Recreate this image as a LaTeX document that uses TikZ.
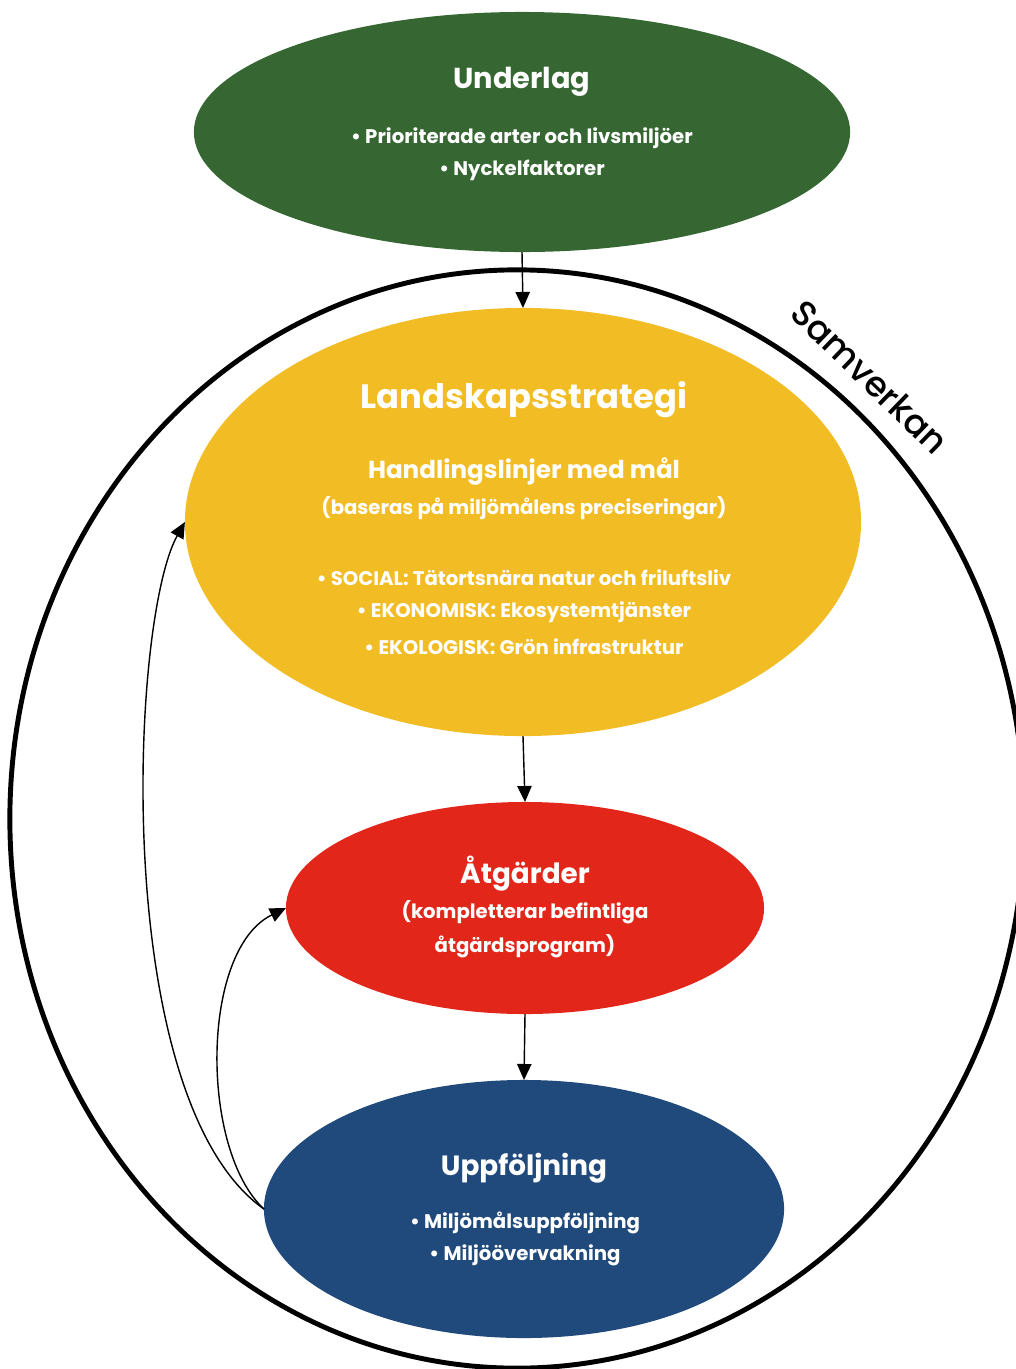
\documentclass[tikz,border=0pt]{standalone}
\usepackage{fontspec}
\setmainfont{Poppins}
\newfontfamily\mellan{Poppins Medium}
\usetikzlibrary{positioning,shapes.geometric,arrows.meta}
\definecolor{skog}{RGB}{54,103,51}
\definecolor{sol}{RGB}{242,188,36}
\definecolor{tegel}{RGB}{226,38,26}
\definecolor{hav}{RGB}{33,74,124}
\tikzset{
    Cirkel/.style={ellipse, inner sep=0pt, outer sep=0pt},
    Titel/.style={text=white, inner sep=0pt, font=\bfseries\fontsize{19.8}{23}\selectfont},
    Under/.style={text=white, inner sep=0pt, font=\bfseries\fontsize{17.5}{21}\selectfont},
    Punkt/.style={text=white, inner sep=0pt, font=\bfseries\fontsize{14}{17}\selectfont},
    Pil/.style={-{Triangle[length=4mm,width=3.6mm]}, line width=1pt}
    }
\begin{document}
\begin{tikzpicture}[x=0.025cm, y=-0.025cm]
\clip (0,0) rectangle (1016,1369);

% yttre ring
\node[Cirkel, draw, line width=3.5pt, minimum width=25.35cm, minimum height=27.45cm] (Ring) at (517,819) {};
\node[rotate=-44, font=\mellan\fontsize{25}{30}\selectfont] (Samverkan) at (870,377) {Samverkan};

\node[Cirkel, fill=skog, minimum width=16.4cm, minimum height=6cm] (Underlag) at (522,132) {};
\node[Cirkel, fill=sol, minimum width=16.9cm, minimum height=10.7cm] (Strategi) at (523,522) {};
\node[Cirkel, fill=tegel, minimum width=11.95cm, minimum height=5.3cm] (Atgarder) at (525,908) {};
\node[Cirkel, fill=hav, minimum width=13cm, minimum height=6.45cm] (Uppfoljning) at (524,1209) {};

\node[Titel, font=\bfseries\fontsize{20.5}{24}\selectfont] (UnderlagT) at (522,82) {Underlag};
\node[Punkt] (UnderlagA) at (522,138) {• Prioriterade arter och livsmiljöer};
\node[Punkt] (UnderlagB) at (522,170) {• Nyckelfaktorer};

\node[Titel, font=\bfseries\fontsize{24}{28}\selectfont] (StrategiT) at (524,400) {Landskapsstrategi};
\node[Under] (StrategiU) at (524,472) {Handlingslinjer med mål};
\node[Punkt] (StrategiP) at (524,508) {(baseras på miljömålens preciseringar)};
\node[Punkt] (StrategiA) at (524,578) {• SOCIAL: Tätortsnära natur och friluftsliv};
\node[Punkt] (StrategiB) at (524,612) {• EKONOMISK: Ekosystemtjänster};
\node[Punkt] (StrategiC) at (524,647) {• EKOLOGISK: Grön infrastruktur};

\node[Titel] (AtgarderT) at (525,874) {Åtgärder};
\node[Punkt] (AtgarderA) at (525,912) {(kompletterar befintliga};
\node[Punkt] (AtgarderB) at (525,946) {åtgärdsprogram)};

\node[Titel] (UppfoljningT) at (524,1168) {Uppföljning};
\node[Punkt] (UppfoljningA) at (525,1223) {• Miljömålsuppföljning};
\node[Punkt] (UppfoljningB) at (525,1255) {• Miljöövervakning};

\draw[Pil] (Underlag.south) -- (Strategi.north);
\draw[Pil] (Strategi.south) -- (Atgarder.north);
\draw[Pil] (Atgarder.south) -- (Uppfoljning.north);

\draw[Pil] (Uppfoljning.west) .. controls (110,1100) and (130,620) .. (Strategi.west);
\draw[Pil] (Uppfoljning.west) .. controls (200,1150) and (200,950) .. (Atgarder.west);
\end{tikzpicture}
\end{document}
